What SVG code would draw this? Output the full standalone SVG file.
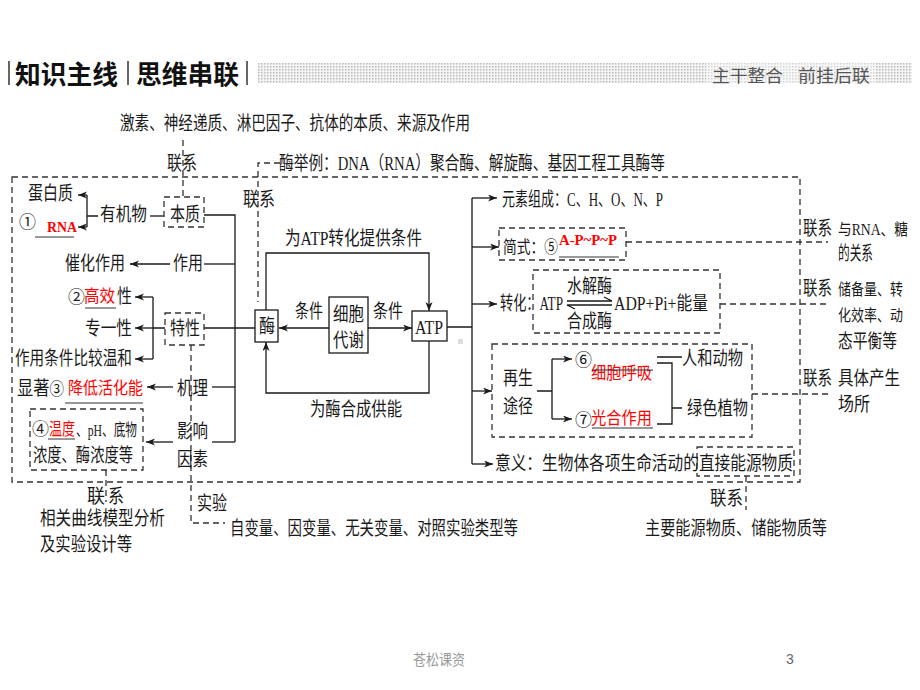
<svg xmlns="http://www.w3.org/2000/svg" width="920" height="690" viewBox="0 0 920 690">
<style>
.t{font-family:"Liberation Serif","Noto Sans CJK SC",serif;font-size:19px;fill:#1a1a1a}
.c{font-family:"Noto Sans CJK SC",sans-serif;font-size:17px;fill:#1a1a1a}
.r{font-family:"Noto Sans CJK SC",sans-serif;font-size:17px;fill:#ff0000}
.rb{font-family:"Liberation Serif",serif;font-weight:bold;font-size:14px;fill:#ff0000}
.ln{stroke:#1a1a1a;stroke-width:1.3;fill:none}
.ul{stroke:#333;stroke-width:1;fill:none}
.ds{stroke:#333;stroke-width:1.3;fill:none;stroke-dasharray:6 4}
.bx{stroke:#1a1a1a;stroke-width:1.3;fill:#fff}
.hd{font-family:"Noto Sans CJK SC",sans-serif;font-weight:bold;font-size:26px;fill:#111}
.hs{font-family:"Noto Sans CJK SC",sans-serif;font-size:17px;fill:#555}
</style>
<defs>
<marker id="arr" markerUnits="userSpaceOnUse" markerWidth="10" markerHeight="8" refX="9" refY="3.5" orient="auto">
<path d="M0,0 L9,3.5 L0,7 L2.5,3.5 z" fill="#1a1a1a"/>
</marker>
<pattern id="dots" width="3" height="3" patternUnits="userSpaceOnUse">
<rect width="3" height="3" fill="#f4f4f4"/>
<rect width="1.5" height="1.5" fill="#bbb"/>
</pattern>
</defs>
<rect width="920" height="690" fill="#fff"/>

<g id="header">
<rect x="258" y="63" width="654" height="20" fill="url(#dots)"/>
<rect x="8" y="61" width="2" height="24" fill="#666"/>
<rect x="127" y="61" width="2" height="24" fill="#666"/>
<rect x="246" y="61" width="2" height="24" fill="#666"/>
<text class="hd" x="15" y="84" textLength="103" lengthAdjust="spacingAndGlyphs">知识主线</text>
<text class="hd" x="136" y="84" textLength="103" lengthAdjust="spacingAndGlyphs">思维串联</text>
<rect x="706" y="63" width="170" height="20" fill="#fff" opacity="0.35"/>
<text class="hs" x="712" y="82" textLength="71" lengthAdjust="spacingAndGlyphs">主干整合</text>
<text class="hs" x="798" y="82" textLength="72" lengthAdjust="spacingAndGlyphs">前挂后联</text>
</g>

<g id="connectors">
<rect class="ds" x="12" y="177" width="788" height="305"/>
<path class="ds" d="M183,140 V197"/>
<path class="ds" d="M280,163 H258 V302"/>
<path class="ds" d="M191,345 V523 H225"/>
<path class="ds" d="M106,470 V502"/>
<path class="ds" d="M746,476 V510"/>
<path class="ds" d="M626,242 H828 M720,304 H828 M752,394 H828"/>
<path class="ln" d="M98,216 H87 M87,195 V227"/>
<path class="ln" d="M87,195 H78" marker-end="url(#arr)"/>
<path class="ln" d="M87,227 H78" marker-end="url(#arr)"/>
<path class="ln" d="M150,216 H164"/>
<path class="ln" d="M204,215 H235 V442"/>
<path class="ln" d="M170,264 H130" marker-end="url(#arr)"/>
<path class="ln" d="M204,264 H235"/>
<path class="ln" d="M153,297 V359 M165,328 H153 M204,328 H255"/>
<path class="ln" d="M153,297 H135" marker-end="url(#arr)"/>
<path class="ln" d="M153,328 H135" marker-end="url(#arr)"/>
<path class="ln" d="M153,359 H135" marker-end="url(#arr)"/>
<path class="ln" d="M173,387 H147" marker-end="url(#arr)"/>
<path class="ln" d="M212,387 H235"/>
<path class="ln" d="M173,442 H146" marker-end="url(#arr)"/>
<path class="ln" d="M212,442 H235"/>
<path class="ln" d="M329,328 H279" marker-end="url(#arr)"/>
<path class="ln" d="M368,328 H412" marker-end="url(#arr)"/>
<path class="ln" d="M266,310 V253 H429 V311" marker-end="url(#arr)"/>
<path class="ln" d="M429,341 V393 H266 V342" marker-end="url(#arr)"/>
<path class="ln" d="M447,327 H472 M472,198 V464"/>
<path class="ln" d="M472,198 H497" marker-end="url(#arr)"/>
<path class="ln" d="M472,247 H499" marker-end="url(#arr)"/>
<path class="ln" d="M472,304 H497" marker-end="url(#arr)"/>
<path class="ln" d="M472,391 H492" marker-end="url(#arr)"/>
<path class="ln" d="M472,464 H493" marker-end="url(#arr)"/>
<path class="ln" d="M537,391 H552 M552,359 V419"/>
<path class="ln" d="M552,359 H572" marker-end="url(#arr)"/>
<path class="ln" d="M552,419 H572" marker-end="url(#arr)"/>
<path class="ln" d="M657,357 H682 M657,363 H672 V424 H657 M672,408 H682"/>
<path class="ln" d="M567,301 H612 L604,297 M612,305 H567 L575,309" stroke-width="1.1"/>
</g>

<g id="n-top">
<text class="t" x="120" y="130" textLength="350" lengthAdjust="spacingAndGlyphs">激素、神经递质、淋巴因子、抗体的本质、来源及作用</text>
<text class="t" x="167" y="170" textLength="30" lengthAdjust="spacingAndGlyphs">联系</text>
</g>
<g id="n-example">
<text class="t" x="279" y="170" textLength="386" lengthAdjust="spacingAndGlyphs">酶举例：DNA（RNA）聚合酶、解旋酶、基因工程工具酶等</text>
<text class="t" x="243" y="206" textLength="32" lengthAdjust="spacingAndGlyphs">联系</text>
</g>

<g id="n-benzhi">
<text class="t" x="28" y="200" textLength="45" lengthAdjust="spacingAndGlyphs">蛋白质</text>
<text class="c" x="19" y="228">①</text>
<text class="rb" x="47" y="232" textLength="30" lengthAdjust="spacingAndGlyphs">RNA</text>
<path class="ul" d="M35,237 H74"/>
<text class="t" x="100" y="221" textLength="47" lengthAdjust="spacingAndGlyphs">有机物</text>
<rect class="ds" x="164" y="197" width="40" height="30"/>
<text class="t" x="170" y="221" textLength="30" lengthAdjust="spacingAndGlyphs">本质</text>
</g>

<g id="n-zuoyong">
<text class="t" x="65" y="270" textLength="60" lengthAdjust="spacingAndGlyphs">催化作用</text>
<text class="t" x="173" y="270" textLength="30" lengthAdjust="spacingAndGlyphs">作用</text>
</g>

<g id="n-texing">
<text class="c" x="68" y="303">②</text>
<text class="r" x="84" y="302" textLength="31" lengthAdjust="spacingAndGlyphs">高效</text>
<text class="t" x="117" y="303" textLength="15" lengthAdjust="spacingAndGlyphs">性</text>
<path class="ul" d="M85,308 H116"/>
<text class="t" x="85" y="335" textLength="47" lengthAdjust="spacingAndGlyphs">专一性</text>
<text class="t" x="15" y="365" textLength="117" lengthAdjust="spacingAndGlyphs">作用条件比较温和</text>
<rect class="ds" x="165" y="313" width="39" height="32"/>
<text class="t" x="170" y="335" textLength="30" lengthAdjust="spacingAndGlyphs">特性</text>
</g>

<g id="n-jili">
<text class="t" x="17" y="395" textLength="47" lengthAdjust="spacingAndGlyphs">显著<tspan class="c">③</tspan></text>
<text class="r" x="68" y="394" textLength="75" lengthAdjust="spacingAndGlyphs">降低活化能</text>
<path class="ul" d="M65,403 H143"/>
<text class="t" x="177" y="395" textLength="31" lengthAdjust="spacingAndGlyphs">机理</text>
</g>

<g id="n-yingxiang">
<rect class="ds" x="30" y="409" width="113" height="61"/>
<text class="c" x="32" y="435">④</text>
<text class="r" x="49" y="435" textLength="26" lengthAdjust="spacingAndGlyphs">温度</text>
<path class="ul" d="M48,439 H75"/>
<text class="t" x="76" y="436" style="font-size:17px" textLength="61" lengthAdjust="spacingAndGlyphs">、pH、底物</text>
<text class="t" x="33" y="462" textLength="100" lengthAdjust="spacingAndGlyphs">浓度、酶浓度等</text>
<text class="t" x="177" y="438" textLength="31" lengthAdjust="spacingAndGlyphs">影响</text>
<text class="t" x="177" y="466" textLength="31" lengthAdjust="spacingAndGlyphs">因素</text>
</g>

<g id="n-bottom-left">
<text class="t" x="87" y="503" textLength="18" lengthAdjust="spacingAndGlyphs">联</text>
<text class="t" x="108" y="503" textLength="16" lengthAdjust="spacingAndGlyphs">系</text>
<text class="t" x="40" y="525" textLength="125" lengthAdjust="spacingAndGlyphs">相关曲线模型分析</text>
<text class="t" x="40" y="551" textLength="92" lengthAdjust="spacingAndGlyphs">及实验设计等</text>
</g>
<g id="n-shiyan">
<text class="t" x="197" y="510" textLength="30" lengthAdjust="spacingAndGlyphs">实验</text>
<text class="t" x="230" y="535" textLength="288" lengthAdjust="spacingAndGlyphs">自变量、因变量、无关变量、对照实验类型等</text>
</g>

<g id="n-mei">
<rect class="bx" x="255" y="310" width="23" height="32"/>
<text class="t" x="259" y="333" textLength="16" lengthAdjust="spacingAndGlyphs">酶</text>
</g>
<g id="n-xibao">
<rect class="bx" x="329" y="297" width="39" height="56"/>
<text class="t" x="333" y="321" textLength="31" lengthAdjust="spacingAndGlyphs">细胞</text>
<text class="t" x="333" y="347" textLength="31" lengthAdjust="spacingAndGlyphs">代谢</text>
<text class="t" x="295" y="318" textLength="28" lengthAdjust="spacingAndGlyphs">条件</text>
<text class="t" x="373" y="318" textLength="30" lengthAdjust="spacingAndGlyphs">条件</text>
</g>
<g id="n-atp">
<rect class="bx" x="412" y="311" width="35" height="30"/>
<text class="t" x="415" y="334" textLength="28" lengthAdjust="spacingAndGlyphs">ATP</text>
<rect x="458" y="339" width="5" height="5" fill="#ddd"/>
</g>
<g id="n-loop-labels">
<text class="t" x="285" y="245" textLength="137" lengthAdjust="spacingAndGlyphs">为ATP转化提供条件</text>
<text class="t" x="310" y="416" textLength="92" lengthAdjust="spacingAndGlyphs">为酶合成供能</text>
</g>

<g id="n-yuansu">
<text class="t" x="502" y="206" textLength="161" lengthAdjust="spacingAndGlyphs">元素组成：C、H、O、N、P</text>
</g>
<g id="n-jianshi">
<rect class="ds" x="499" y="228" width="127" height="32"/>
<text class="t" x="503" y="253" style="font-size:17px" textLength="55" lengthAdjust="spacingAndGlyphs">简式：<tspan class="c">⑤</tspan></text>
<text class="rb" x="559" y="245" textLength="58" lengthAdjust="spacingAndGlyphs">A-P~P~P</text>
<path class="ul" d="M559,257 H619"/>
</g>
<g id="n-zhuanhua">
<rect class="ds" x="533" y="270" width="187" height="63"/>
<text class="t" x="500" y="310" textLength="63" lengthAdjust="spacingAndGlyphs">转化：ATP</text>
<text class="t" x="567" y="293" textLength="45" lengthAdjust="spacingAndGlyphs">水解酶</text>
<text class="t" x="567" y="328" textLength="45" lengthAdjust="spacingAndGlyphs">合成酶</text>
<text class="t" x="614" y="310" textLength="94" lengthAdjust="spacingAndGlyphs">ADP+Pi+能量</text>
</g>
<g id="n-zaisheng">
<rect class="ds" x="492" y="344" width="260" height="93"/>
<text class="t" x="503" y="385" textLength="30" lengthAdjust="spacingAndGlyphs">再生</text>
<text class="t" x="503" y="413" textLength="30" lengthAdjust="spacingAndGlyphs">途径</text>
<text class="c" x="575" y="366">⑥</text>
<text class="r" x="591" y="379" textLength="61" lengthAdjust="spacingAndGlyphs">细胞呼吸</text>
<path class="ul" d="M592,370 H653"/>
<text class="c" x="575" y="426">⑦</text>
<text class="r" x="591" y="424" textLength="61" lengthAdjust="spacingAndGlyphs">光合作用</text>
<path class="ul" d="M592,428 H653"/>
<text class="t" x="682" y="365" textLength="61" lengthAdjust="spacingAndGlyphs">人和动物</text>
<text class="t" x="687" y="415" textLength="61" lengthAdjust="spacingAndGlyphs">绿色植物</text>
</g>
<g id="n-yiyi">
<rect class="ds" x="697" y="447" width="97" height="29"/>
<text class="t" x="495" y="470" textLength="298" lengthAdjust="spacingAndGlyphs">意义：生物体各项生命活动的直接能源物质</text>
<text class="t" x="710" y="505" textLength="33" lengthAdjust="spacingAndGlyphs">联系</text>
<text class="t" x="645" y="535" textLength="182" lengthAdjust="spacingAndGlyphs">主要能源物质、储能物质等</text>
</g>

<g id="n-right1">
<text class="t" x="803" y="235" textLength="29" lengthAdjust="spacingAndGlyphs">联系</text>
<text class="t" x="838" y="235" style="font-size:16px" textLength="70" lengthAdjust="spacingAndGlyphs">与RNA、糖</text>
<text class="t" x="838" y="260" textLength="35" lengthAdjust="spacingAndGlyphs">的关系</text>
</g>
<g id="n-right2">
<text class="t" x="803" y="295" textLength="29" lengthAdjust="spacingAndGlyphs">联系</text>
<text class="t" x="838" y="295" style="font-size:16px" textLength="65" lengthAdjust="spacingAndGlyphs">储备量、转</text>
<text class="t" x="838" y="321" style="font-size:16px" textLength="65" lengthAdjust="spacingAndGlyphs">化效率、动</text>
<text class="t" x="838" y="348" textLength="59" lengthAdjust="spacingAndGlyphs">态平衡等</text>
</g>
<g id="n-right3">
<text class="t" x="803" y="385" textLength="29" lengthAdjust="spacingAndGlyphs">联系</text>
<text class="t" x="838" y="385" textLength="62" lengthAdjust="spacingAndGlyphs">具体产生</text>
<text class="t" x="838" y="411" textLength="32" lengthAdjust="spacingAndGlyphs">场所</text>
</g>

<g id="footer">
<text x="413" y="665" font-family="Noto Sans CJK SC,sans-serif" font-size="15" fill="#999" textLength="52" lengthAdjust="spacingAndGlyphs">苍松课资</text>
<text x="786" y="664" font-family="Liberation Sans,sans-serif" font-size="14" fill="#666">3</text>
</g>
</svg>
